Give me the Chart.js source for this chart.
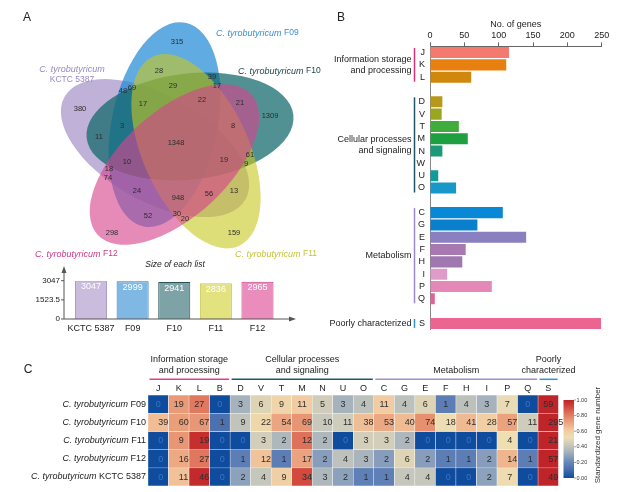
<!DOCTYPE html>
<html>
<head>
<meta charset="utf-8">
<script src="https://cdn.jsdelivr.net/npm/chart.js@4.4.1/dist/chart.umd.min.js"></script>
<style>
  html, body { margin: 0; padding: 0; background: #fff; }
  body { position: relative; width: 634px; height: 492px; overflow: hidden; }
  canvas { position: absolute; }
</style>
</head>
<body>
<canvas id="venn" width="330" height="262" style="left:0;top:0"></canvas>
<canvas id="sizes" width="330" height="84" style="left:0;top:258px"></canvas>
<canvas id="cog" width="314" height="340" style="left:320px;top:0"></canvas>
<canvas id="heat" width="634" height="157" style="left:0;top:335px"></canvas>
<script>
// ---- data ----
const setNames = ['KCTC 5387', 'F09', 'F10', 'F11', 'F12'];
const listSizes = [3047, 2999, 2941, 2836, 2965];
const sizeTicks = [0, 1523.5, 3047];

const vennCounts = [315, 28, 39, 17, 48, 69, 29, 17, 22, 21, 1309, 380, 3, 8, 11, 1348,
  19, 61, 9, 10, 18, 74, 24, 13, 56, 948, 52, 30, 20, 298, 159];

const cogLetters = ['J', 'K', 'L', '', 'D', 'V', 'T', 'M', 'N', 'W', 'U', 'O', '',
  'C', 'G', 'E', 'F', 'H', 'I', 'P', 'Q', '', 'S'];
const cogCounts = [115, 111, 60, null, 18, 17, 42, 55, 18, 0, 12, 38, null,
  106, 69, 140, 52, 47, 25, 90, 7, null, 249];

const heatCols = ['J', 'K', 'L', 'B', 'D', 'V', 'T', 'M', 'N', 'U', 'O', 'C', 'G', 'E', 'F', 'H', 'I', 'P', 'Q', 'S'];
const heatStrains = ['F09', 'F10', 'F11', 'F12', 'KCTC 5387'];
const heatF09 = [0, 19, 27, 0, 3, 6, 9, 11, 5, 3, 4, 11, 4, 6, 1, 4, 3, 7, 0, 59];
const heatF10 = [39, 60, 67, 1, 9, 22, 54, 69, 10, 11, 38, 53, 40, 74, 18, 41, 28, 57, 11, 295];
const heatF11 = [0, 9, 19, 0, 0, 3, 2, 12, 2, 0, 3, 3, 2, 0, 0, 0, 0, 4, 0, 21];
const heatF12 = [0, 16, 27, 0, 1, 12, 1, 17, 2, 4, 3, 2, 6, 2, 1, 1, 2, 14, 1, 57];
const heatKCTC = [0, 11, 46, 0, 2, 4, 9, 34, 3, 2, 1, 1, 4, 4, 0, 0, 2, 7, 0, 49];
const heatRows = [heatF09, heatF10, heatF11, heatF12, heatKCTC];

// ---- layout / styles ----
const FONT = '"Liberation Sans", Arial, sans-serif';
Chart.defaults.font.family = FONT;
Chart.defaults.animation = false;
Chart.defaults.events = [];
Chart.defaults.plugins.legend.display = false;
Chart.defaults.plugins.tooltip.enabled = false;

const SPECIES = 'C. tyrobutyricum ';

// where each region count sits, in pixels of panel A
const vennSpots = [[177, 42], [159, 71], [212, 77], [217, 86], [123, 91], [132, 88], [173, 86],
  [143, 104], [202, 100], [240, 103], [270, 116], [80, 109], [122, 126], [233, 126], [99, 137],
  [176, 143], [224, 160], [250, 155], [246, 164], [127, 162], [109, 169], [108, 178], [137, 191],
  [234, 191], [209, 194], [178, 198], [148, 216], [177, 214], [185, 219], [112, 233], [234, 233]];

const ELL_A = 104, ELL_B = 53;
const vennShapes = [
  { cx: 155, cy: 148.1, rot: -150.4, fill: 'rgba(130,100,180,0.5)' },   // KCTC 5387
  { cx: 164.6, cy: 124.6, rot: -78.4, fill: 'rgba(35,139,214,0.72)' },  // F09
  { cx: 190, cy: 126.5, rot: -6.4, fill: 'rgba(15,102,106,0.72)' },     // F10
  { cx: 196, cy: 151.2, rot: 65.6, fill: 'rgba(200,200,30,0.6)' },      // F11
  { cx: 174.4, cy: 164.5, rot: 137.6, fill: 'rgba(215,67,141,0.62)' }   // F12
];

const sizeFill = ['#c9bcdc', '#80b8e4', '#7ea3a6', '#e2e27e', '#ea8cbc'];
const sizeLine = ['#ab9acb', '#2a7ac0', '#2a5458', '#c8c850', '#c83c84'];

const cogColors = ['#f47a70', '#e8800f', '#d0880c', null, '#b8981a', '#9aa61e', '#40ac3c', '#1ea040',
  '#1a9a78', '#1a9a78', '#109a98', '#1898c8', null, '#0a88d8', '#0a80cc', '#8a80c0', '#a878b0',
  '#a078b0', '#e09cc8', '#e488b8', '#e06498', null, '#ec6490'];

const groupColors = ['#d6307f', '#1d5566', '#9a88c8', '#3a90d0'];

const heatStops = [
  [0.00, [16, 76, 158]], [0.12, [74, 112, 176]], [0.22, [110, 140, 186]],
  [0.32, [160, 174, 188]], [0.42, [200, 200, 188]], [0.52, [238, 222, 178]],
  [0.62, [242, 200, 158]], [0.72, [234, 160, 124]], [0.82, [224, 118, 94]],
  [0.92, [208, 68, 58]], [1.00, [190, 36, 40]]
];

function heatColor(t) {
  for (let i = 1; i < heatStops.length; i++) {
    const [t1, c1] = heatStops[i];
    const [t0, c0] = heatStops[i - 1];
    if (t <= t1) {
      const f = (t - t0) / (t1 - t0);
      const c = c0.map((v, k) => Math.round(v + (c1[k] - v) * f));
      return `rgb(${c[0]},${c[1]},${c[2]})`;
    }
  }
  return 'rgb(190,36,40)';
}

// log-standardized per strain
function rowColors(vals) {
  const top = Math.log(Math.max(...vals) + 1);
  return vals.map(v => heatColor(Math.log(v + 1) / top));
}

function richText(ctx, parts, x, y, align) {
  const widths = parts.map(p => { ctx.font = p.font; return ctx.measureText(p.text).width; });
  const total = widths.reduce((a, b) => a + b, 0);
  let cx = align === 'right' ? x - total : align === 'center' ? x - total / 2 : x;
  ctx.textAlign = 'left';
  ctx.textBaseline = 'middle';
  parts.forEach((p, i) => {
    ctx.font = p.font;
    ctx.fillStyle = p.color;
    ctx.fillText(p.text, cx, y);
    cx += widths[i];
  });
}

function species(strain, color, size, small) {
  return [
    { text: SPECIES, font: `italic ${size}px ${FONT}`, color },
    { text: strain, font: `${small || size}px ${FONT}`, color }
  ];
}

function panelLetter(ctx, letter, x, y) {
  ctx.save();
  ctx.font = `12px ${FONT}`;
  ctx.fillStyle = '#222';
  ctx.textAlign = 'center';
  ctx.textBaseline = 'middle';
  ctx.fillText(letter, x, y);
  ctx.restore();
}

// ---- A: Venn ----
const vennPlugin = {
  id: 'vennShapes',
  beforeDatasetsDraw(chart) {
    const { ctx, scales: { x, y } } = chart;
    const unit = x.getPixelForValue(1) - x.getPixelForValue(0);
    vennShapes.forEach(s => {
      ctx.save();
      ctx.beginPath();
      ctx.ellipse(x.getPixelForValue(s.cx), y.getPixelForValue(s.cy), ELL_A * unit, ELL_B * unit,
        s.rot * Math.PI / 180, 0, Math.PI * 2);
      ctx.fillStyle = s.fill;
      ctx.fill();
      ctx.restore();
    });
  },
  afterDatasetsDraw(chart) {
    const ctx = chart.ctx;
    ctx.save();
    ctx.font = `7.5px ${FONT}`;
    ctx.fillStyle = '#2b2b2b';
    ctx.textAlign = 'center';
    ctx.textBaseline = 'middle';
    chart.getDatasetMeta(0).data.forEach((p, i) => ctx.fillText(String(vennCounts[i]), p.x, p.y));

    richText(ctx, species(setNames[1], '#3a8fd0', 9, 8.5), 216, 33, 'left');
    richText(ctx, species(setNames[2], '#23474c', 9, 8.5), 238, 71, 'left');
    richText(ctx, [{ text: 'C. tyrobutyricum', font: `italic 9px ${FONT}`, color: '#9b88c4' }], 72, 69, 'center');
    richText(ctx, [{ text: setNames[0], font: `8.5px ${FONT}`, color: '#9b88c4' }], 72, 80, 'center');
    richText(ctx, species(setNames[4], '#cc3a88', 9, 8.5), 35, 254, 'left');
    richText(ctx, species(setNames[3], '#c4c43a', 9, 8.5), 235, 254, 'left');
    ctx.restore();
    panelLetter(ctx, 'A', 27, 18);
  }
};

new Chart(document.getElementById('venn'), {
  type: 'scatter',
  data: { datasets: [{ data: vennSpots.map(([x, y]) => ({ x, y })), pointRadius: 0 }] },
  options: {
    responsive: false,
    layout: { padding: 0 },
    scales: {
      x: { type: 'linear', min: 0, max: 330, display: false },
      y: { type: 'linear', min: 0, max: 262, reverse: true, display: false }
    }
  },
  plugins: [vennPlugin]
});

// ---- A: size of each list ----
const sizeAxes = {
  id: 'sizeAxes',
  afterDatasetsDraw(chart) {
    const { ctx, scales: { x, y } } = chart;
    const ax = 64, ay = y.getPixelForValue(0);
    ctx.save();
    ctx.strokeStyle = '#555';
    ctx.fillStyle = '#555';
    ctx.lineWidth = 1;
    ctx.beginPath();
    ctx.moveTo(ax, ay); ctx.lineTo(ax, 12);
    ctx.moveTo(ax, ay); ctx.lineTo(292, ay);
    sizeTicks.forEach(t => {
      const py = y.getPixelForValue(t);
      ctx.moveTo(ax - 3, py); ctx.lineTo(ax, py);
    });
    ctx.stroke();
    ctx.beginPath();
    ctx.moveTo(ax, 8); ctx.lineTo(ax - 2.5, 15); ctx.lineTo(ax + 2.5, 15); ctx.closePath();
    ctx.moveTo(296, ay); ctx.lineTo(289, ay - 2.5); ctx.lineTo(289, ay + 2.5); ctx.closePath();
    ctx.fill();

    ctx.fillStyle = '#222';
    ctx.font = `8px ${FONT}`;
    ctx.textAlign = 'right';
    ctx.textBaseline = 'middle';
    sizeTicks.forEach(t => ctx.fillText(String(t), 60, y.getPixelForValue(t)));

    ctx.font = `9px ${FONT}`;
    ctx.textAlign = 'center';
    setNames.forEach((n, i) => ctx.fillText(n, x.getPixelForValue(i), 71));

    ctx.fillStyle = '#fff';
    chart.getDatasetMeta(0).data.forEach((b, i) => ctx.fillText(String(listSizes[i]), b.x, b.y + 6));

    ctx.fillStyle = '#222';
    ctx.font = `italic 8.5px ${FONT}`;
    ctx.fillText('Size of each list', 175, 7);
    ctx.restore();
  }
};

new Chart(document.getElementById('sizes'), {
  type: 'bar',
  data: {
    labels: setNames,
    datasets: [{
      data: listSizes,
      backgroundColor: sizeFill,
      borderColor: sizeLine,
      borderWidth: 1,
      barPercentage: 0.77,
      categoryPercentage: 1
    }]
  },
  options: {
    responsive: false,
    layout: { padding: { left: 70.2, right: 51.7, top: 22.7, bottom: 23 } },
    scales: {
      x: { display: false },
      y: { display: false, min: 0, max: 3047 }
    }
  },
  plugins: [sizeAxes]
});

// ---- B: COG categories ----
const cogGroups = [
  { lines: ['Information storage', 'and processing'], from: 0, to: 2 },
  { lines: ['Cellular processes', 'and signaling'], from: 4, to: 11 },
  { lines: ['Metabolism'], from: 13, to: 20 },
  { lines: ['Poorly characterized'], from: 22, to: 22 }
];

const cogPlugin = {
  id: 'cogGroups',
  afterDraw(chart) {
    const { ctx, scales: { y } } = chart;
    ctx.save();
    ctx.font = `9px ${FONT}`;
    ctx.textAlign = 'right';
    ctx.textBaseline = 'middle';
    cogGroups.forEach((g, i) => {
      const y0 = y.getPixelForValue(g.from), y1 = y.getPixelForValue(g.to);
      ctx.strokeStyle = groupColors[i];
      ctx.lineWidth = 1.5;
      ctx.beginPath();
      ctx.moveTo(94.5, y0 - 4.5);
      ctx.lineTo(94.5, y1 + 4.5);
      ctx.stroke();
      ctx.fillStyle = '#222';
      const mid = (y0 + y1) / 2;
      g.lines.forEach((t, k) => ctx.fillText(t, 91.5, mid + (k - (g.lines.length - 1) / 2) * 11));
    });
    ctx.restore();
    panelLetter(ctx, 'B', 21, 18);
  }
};

new Chart(document.getElementById('cog'), {
  type: 'bar',
  data: {
    labels: cogLetters,
    datasets: [{
      data: cogCounts,
      backgroundColor: cogColors,
      barPercentage: 0.9,
      categoryPercentage: 1
    }]
  },
  options: {
    responsive: false,
    indexAxis: 'y',
    layout: { padding: { left: 0, top: 0, right: 32.3, bottom: 5.4 } },
    scales: {
      x: {
        position: 'top',
        min: 0, max: 250,
        ticks: { stepSize: 50, font: { size: 9 }, color: '#222', padding: 1 },
        grid: { drawOnChartArea: false, drawTicks: true, tickLength: 4, color: '#666' },
        border: { display: true, color: '#666' },
        title: { display: true, text: 'No. of genes', font: { size: 9 }, color: '#222', padding: { top: 19.6, bottom: 0 } },
        afterFit: s => { s.height = 46.4; }
      },
      y: {
        ticks: { font: { size: 9 }, color: '#222', padding: 5, autoSkip: false },
        grid: { drawOnChartArea: false, drawTicks: false },
        border: { display: true, color: '#888' },
        afterFit: s => { s.width = 110; }
      }
    }
  },
  plugins: [cogPlugin]
});

// ---- C: heatmap ----
const heatGroups = [
  { lines: ['Information storage', 'and processing'], from: 0, to: 3 },
  { lines: ['Cellular processes', 'and signaling'], from: 4, to: 10 },
  { lines: ['Metabolism'], from: 11, to: 18 },
  { lines: ['Poorly', 'characterized'], from: 19, to: 19 }
];
const heatGroupColors = ['#e0408f', '#1d5a66', '#a090cc', '#3a90d0'];
const barTicks = [0, 0.2, 0.4, 0.6, 0.8, 1];

const heatPlugin = {
  id: 'heatText',
  afterDatasetsDraw(chart) {
    const { ctx, scales: { x, y } } = chart;
    const cw = x.width / heatCols.length;
    ctx.save();
    ctx.font = `9px ${FONT}`;
    ctx.textAlign = 'center';
    ctx.textBaseline = 'middle';
    heatRows.forEach((vals, r) => {
      const py = y.getPixelForValue(r + 0.5);
      vals.forEach((v, c) => {
        ctx.fillStyle = v === 0 ? '#3a74c6' : '#2e2e2e';
        ctx.fillText(String(v), x.getPixelForValue(c), py + 0.5);
      });
      richText(ctx, species(heatStrains[r], '#222', 9), 146, py, 'right');
    });

    ctx.textAlign = 'center';
    heatGroups.forEach((g, i) => {
      const x0 = x.getPixelForValue(g.from) - cw / 2 + 1.5;
      const x1 = x.getPixelForValue(g.to) + cw / 2 - 1;
      ctx.strokeStyle = heatGroupColors[i];
      ctx.lineWidth = 1.5;
      ctx.beginPath();
      ctx.moveTo(x0, 44.3); ctx.lineTo(x1, 44.3);
      ctx.stroke();
      ctx.fillStyle = '#222';
      ctx.font = `9px ${FONT}`;
      ctx.textAlign = 'center';
      ctx.textBaseline = 'middle';
      const lines = g.lines;
      lines.forEach((t, k) => ctx.fillText(t, (x0 + x1) / 2, 36 - (lines.length - 1 - k) * 11));
    });

    // colour bar
    const bx = 563.5, bw = 10.5, by0 = 65, by1 = 143;
    const grad = ctx.createLinearGradient(0, by1, 0, by0);
    heatStops.forEach(([t]) => grad.addColorStop(t, heatColor(t)));
    ctx.fillStyle = grad;
    ctx.fillRect(bx, by0, bw, by1 - by0);
    ctx.strokeStyle = '#555';
    ctx.lineWidth = 0.6;
    ctx.font = `5.5px ${FONT}`;
    ctx.fillStyle = '#333';
    ctx.textAlign = 'left';
    barTicks.forEach(t => {
      const py = by1 - t * (by1 - by0);
      ctx.beginPath();
      ctx.moveTo(bx + bw, py); ctx.lineTo(bx + bw + 2, py);
      ctx.stroke();
      ctx.fillText(t.toFixed(2), bx + bw + 2.5, py);
    });
    ctx.translate(598, 100);
    ctx.rotate(-Math.PI / 2);
    ctx.textAlign = 'center';
    ctx.font = `8px ${FONT}`;
    ctx.fillStyle = '#333';
    ctx.fillText('Standardized gene number', 0, 0);
    ctx.restore();
    panelLetter(ctx, 'C', 28, 35);
  }
};

new Chart(document.getElementById('heat'), {
  type: 'bar',
  data: {
    labels: heatCols,
    datasets: heatRows.map((vals, r) => ({
      data: vals.map(() => [r, r + 1]),
      backgroundColor: rowColors(vals),
      borderColor: '#ffffff',
      borderWidth: 0.5,
      borderSkipped: false,
      barPercentage: 1,
      categoryPercentage: 1,
      grouped: false
    }))
  },
  options: {
    responsive: false,
    layout: { padding: { left: 148, right: 75.4, top: 0, bottom: 6 } },
    scales: {
      x: {
        position: 'top',
        ticks: { font: { size: 9 }, color: '#222', padding: 1.5 },
        grid: { display: false, drawTicks: false },
        border: { display: false },
        afterFit: s => { s.height = 60; }
      },
      y: { display: false, min: 0, max: 5, reverse: true }
    }
  },
  plugins: [heatPlugin]
});
</script>
</body>
</html>
